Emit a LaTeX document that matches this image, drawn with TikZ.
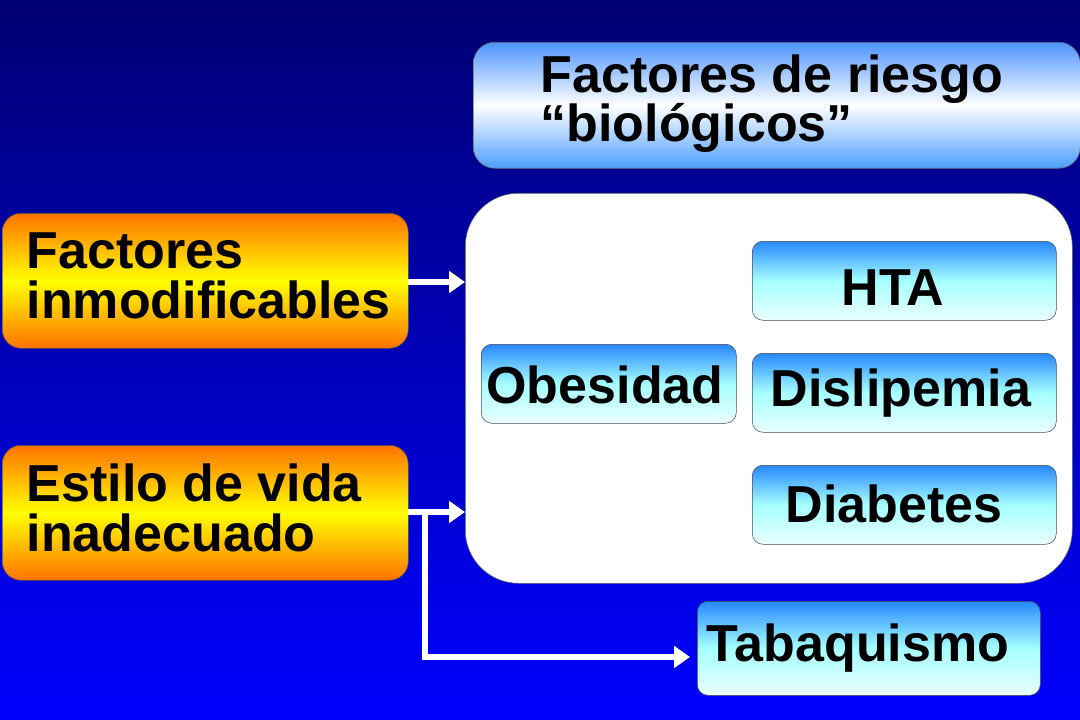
\documentclass[tikz,border=0pt]{standalone}
\usepackage{fontspec}
\setmainfont{Liberation Sans}
\usetikzlibrary{arrows.meta}
\begin{document}
\begin{tikzpicture}[x=0.75pt,y=-0.75pt,
  lbl/.style={font=\bfseries\fontsize{39}{37}\selectfont, text=black},
  bluebox/.style={draw=black!70, rounded corners=8pt, top color=blue!55!cyan!85!white, bottom color=cyan!8!white, middle color=cyan!35!white},
  orbox/.style={draw=black!70, rounded corners=14pt, top color=orange!90!red, bottom color=orange!90!red, middle color=yellow},
  arr/.style={white, line width=4.5pt, -{Triangle[length=12pt,width=16pt]}}]
\shade[top color=blue!45!black, bottom color=blue] (0,0) rectangle (1080,720);
\useasboundingbox (0,0) rectangle (1080,720);
% top box
\node (top) [draw=black!60, rounded corners=16pt, top color=cyan!40!blue!70!white, bottom color=cyan!45!blue!70!white, middle color=white, minimum width=607*0.75pt, minimum height=126*0.75pt, anchor=north west] at (473,42) {};
\node[lbl, anchor=north west, align=left, font=\bfseries\fontsize{39}{37}\selectfont] (toptxt) at (536,50) {Factores de riesgo\\“biológicos”};
% white container
\node (cont) [fill=white, draw=black!60, rounded corners=40pt, minimum width=607*0.75pt, minimum height=390*0.75pt, anchor=north west] at (465,193) {};
% orange
\node (f1) [orbox, minimum width=406*0.75pt, minimum height=135*0.75pt, anchor=north west] at (2,213) {};
\node[lbl, anchor=west, align=left] at (22,276) {Factores\\inmodificables};
\node (f2) [orbox, minimum width=406*0.75pt, minimum height=135*0.75pt, anchor=north west] at (2,445) {};
\node[lbl, anchor=west, align=left] at (22,508) {Estilo de vida\\inadecuado};
% blue boxes
\node (hta) [bluebox, minimum width=304*0.75pt, minimum height=79*0.75pt, anchor=north west] at (752,241) {};
\node[lbl] at (893,288) {HTA};
\node (dis) [bluebox, minimum width=304*0.75pt, minimum height=79*0.75pt, anchor=north west] at (752,353) {};
\node[lbl] at (901,393) {Dislipemia};
\node (dia) [bluebox, minimum width=304*0.75pt, minimum height=79*0.75pt, anchor=north west] at (752,465) {};
\node[lbl] at (894,504) {Diabetes};
\node (obe) [bluebox, minimum width=255*0.75pt, minimum height=79*0.75pt, anchor=north west] at (481,344) {};
\node[lbl] at (605,385) {Obesidad};
\node (tab) [bluebox, minimum width=343*0.75pt, minimum height=94*0.75pt, anchor=north west] at (697,601) {};
\node[lbl] at (858,648) {Tabaquismo};
% arrows
\coordinate (a1) at (408,282);
\coordinate (b1) at (465,282);
\coordinate (a2) at (408,512);
\coordinate (b2) at (465,512);
\coordinate (c) at (425,512);
\coordinate (d) at (425,657);
\coordinate (e) at (690,657);
\draw[arr] (a1) -- (b1);
\draw[arr] (a2) -- (b2);
\draw[arr] (c) -- (d) -- (e);
\end{tikzpicture}
\end{document}
